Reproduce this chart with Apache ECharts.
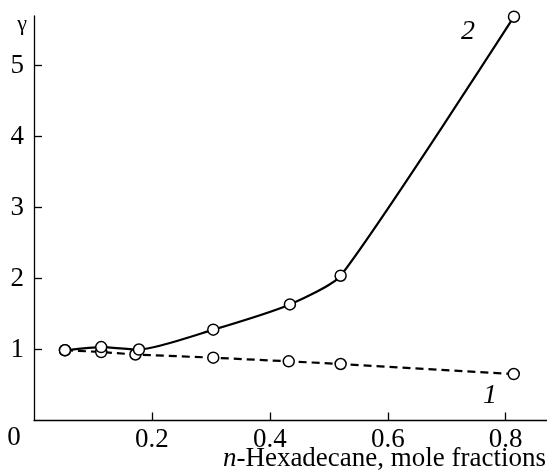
<!DOCTYPE html>
<html>
<head>
<meta charset="utf-8">
<script src="https://cdn.jsdelivr.net/npm/echarts@6/dist/echarts.min.js"></script>
<style>html,body{margin:0;padding:0;background:#fff;}#chart{width:547px;height:476px;}</style>
</head>
<body>
<div id="chart"></div>
<script>
// Curve 1 (dashed)
var x1 = [0.0525, 0.114, 0.172, 0.304, 0.432, 0.520, 0.8136];
var y1 = [0.99, 0.965, 0.93, 0.885, 0.834, 0.796, 0.655];
// Curve 2 (solid)
var x2 = [0.0525, 0.114, 0.178, 0.304, 0.434, 0.520, 0.814];
var y2 = [0.99, 1.035, 1.0, 1.28, 1.636, 2.04, 5.69];
var xTicks = [0.2, 0.4, 0.6, 0.8];
var yTicks = [1, 2, 3, 4, 5];
var xTitleItalic = 'n';
var xTitleRest = '-Hexadecane, mole fractions';
var yTitle = 'γ';

function pairs(xs, ys){ return xs.map(function(x,i){ return [x, ys[i]]; }); }
var FONT = '"Liberation Serif", "Times New Roman", serif';
var chart = echarts.init(document.getElementById('chart'), null, {renderer:'canvas'});
chart.setOption({
  animation:false,
  backgroundColor:'#fff',
  grid:{left:34, right:0, top:16, bottom:55.5, containLabel:false},
  xAxis:{type:'value', min:0, max:0.87, interval:0.2,
    axisLine:{show:true, lineStyle:{color:'#000', width:1.3}},
    axisTick:{show:true, inside:true, length:8, lineStyle:{color:'#000', width:1.3}, customValues:xTicks},
    axisLabel:{show:true, customValues:xTicks, margin:6, color:'#000', fontFamily:FONT, fontSize:27,
      formatter:function(v){ return String(v); }},
    splitLine:{show:false}},
  yAxis:{type:'value', min:0, max:5.7, interval:1,
    axisLine:{show:true, lineStyle:{color:'#000', width:1.3}},
    axisTick:{show:true, inside:true, length:8, lineStyle:{color:'#000', width:1.3}, customValues:yTicks},
    axisLabel:{show:true, customValues:yTicks, margin:10, color:'#000', fontFamily:FONT, fontSize:27},
    splitLine:{show:false}},
  graphic:[
    {type:'text', x:14, y:438, style:{text:'0', fontFamily:FONT, fontSize:27, fill:'#000', align:'center', verticalAlign:'middle'}},
    {type:'text', x:22, y:24, style:{text:yTitle, fontFamily:FONT, fontSize:22, fill:'#000', align:'center', verticalAlign:'middle'}},
    {type:'text', x:546, y:459, style:{text:'{i|' + xTitleItalic + '}' + xTitleRest, fontFamily:FONT, fontSize:27, fill:'#000', align:'right', verticalAlign:'middle',
      rich:{i:{fontFamily:FONT, fontSize:27, fontStyle:'italic', fill:'#000'}}}},
    {type:'text', x:468, y:32, style:{text:'2', fontFamily:FONT, fontSize:28, fontStyle:'italic', fill:'#000', align:'center', verticalAlign:'middle'}},
    {type:'text', x:490, y:396, style:{text:'1', fontFamily:FONT, fontSize:28, fontStyle:'italic', fill:'#000', align:'center', verticalAlign:'middle'}}
  ],
  series:[
    {type:'line', data:pairs(x1,y1), symbol:'circle', symbolSize:11, showAllSymbol:true,
      lineStyle:{color:'#000', width:2.2, type:[8,5]},
      itemStyle:{color:'#fff', borderColor:'#000', borderWidth:1.5}},
    {type:'line', data:pairs(x2,y2), symbol:'circle', symbolSize:11, showAllSymbol:true, smooth:0.2,
      lineStyle:{color:'#000', width:2.2},
      itemStyle:{color:'#fff', borderColor:'#000', borderWidth:1.5}}
  ]
});
</script>
</body>
</html>
